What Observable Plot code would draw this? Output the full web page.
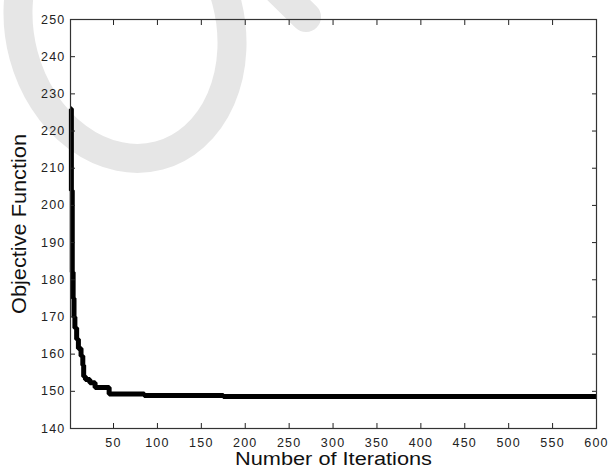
<!DOCTYPE html>
<html>
<head>
<meta charset="utf-8">
<script src="https://cdn.jsdelivr.net/npm/d3@7"></script>
<script src="https://cdn.jsdelivr.net/npm/@observablehq/plot@0.6"></script>
<style>
  html, body { margin: 0; padding: 0; background: #fff; }
  #wrap { position: relative; width: 610px; height: 473px; }
  #wm { position: absolute; left: 0; top: 0; }
  #chart { position: absolute; left: 0; top: 0; }
</style>
</head>
<body>
<div id="wrap">
  <svg id="wm" width="610" height="473">
    <ellipse cx="125" cy="28" rx="105" ry="132" fill="none" stroke="#e6e6e6" stroke-width="29" transform="rotate(-15 125 28)"></ellipse>
    <line x1="258" y1="-30" x2="306" y2="17" stroke="#e6e6e6" stroke-width="30" stroke-linecap="round"></line>
  </svg>
  <div id="chart"></div>
</div>
<script>
const iterations = [1, 2, 3, 4, 5, 6, 8, 10, 13, 15, 16, 18, 23, 29, 45, 85, 175, 600];
const objective = [226, 204, 182, 175, 170, 167, 164, 161.5, 159.5, 157, 154, 153.2, 152.3, 151, 149.3, 148.9, 148.6, 148.6];
const xTicks = [50, 100, 150, 200, 250, 300, 350, 400, 450, 500, 550, 600];
const yTicks = [140, 150, 160, 170, 180, 190, 200, 210, 220, 230, 240, 250];
const xLabel = "Number of Iterations";
const yLabel = "Objective Function";

const data = iterations.map((x, i) => ({x, y: objective[i]}));
const font = "'Liberation Sans', Arial, Helvetica, sans-serif";
const none = () => "";

const plot = Plot.plot({
  width: 610,
  height: 473,
  marginLeft: 70,
  marginRight: 14,
  marginTop: 19,
  marginBottom: 45,
  style: {background: "transparent", fontFamily: font, fontSize: "12.5px", color: "#222"},
  x: {domain: [1, 600], ticks: xTicks},
  y: {domain: [140, 250], ticks: yTicks},
  marks: [
    Plot.line(data, {x: "x", y: "y", curve: "step-after", stroke: "#000", strokeWidth: 5, strokeLinejoin: "miter", strokeLinecap: "butt"}),
    // tick labels
    Plot.axisX(xTicks, {anchor: "bottom", tickSize: 0, tickPadding: 10, label: null, fill: "#222"}),
    Plot.axisY(yTicks, {anchor: "left", tickSize: 0, tickPadding: 5, label: null, fill: "#222"}),
    // inward ticks on all four sides
    Plot.axisX(xTicks, {anchor: "bottom", tickSize: 5, dy: -5, tickFormat: none, label: null, stroke: "#222"}),
    Plot.axisX(xTicks, {anchor: "top", tickSize: 5, dy: 5, tickFormat: none, label: null, stroke: "#222"}),
    Plot.axisY(yTicks, {anchor: "left", tickSize: 5, dx: 5, tickFormat: none, label: null, stroke: "#222"}),
    Plot.axisY(yTicks, {anchor: "right", tickSize: 5, dx: -5, tickFormat: none, label: null, stroke: "#222"}),
    Plot.frame({stroke: "#333", strokeWidth: 1.2}),
    Plot.text([xLabel], {frameAnchor: "bottom", textAnchor: "middle", lineAnchor: "middle", dy: 31, fontSize: 18, fill: "#111", fontFamily: font, ariaLabel: () => "xlabel"}),
    Plot.text([yLabel], {frameAnchor: "left", textAnchor: "middle", lineAnchor: "middle", dx: -51, rotate: -90, fontSize: 20, fill: "#111", fontFamily: font, ariaLabel: () => "ylabel"})
  ]
});
document.getElementById("chart").appendChild(plot);

const root = d3.select(plot);
root.selectAll("g[aria-label='x-axis tick label'] text, g[aria-label='y-axis tick label'] text")
  .attr("letter-spacing", "1.2px");
root.selectAll("text[aria-label='xlabel'], g[aria-label='xlabel'] text")
  .attr("textLength", 197).attr("lengthAdjust", "spacingAndGlyphs");
root.selectAll("text[aria-label='ylabel'], g[aria-label='ylabel'] text")
  .attr("textLength", 180).attr("lengthAdjust", "spacingAndGlyphs");
</script>
</body>
</html>
